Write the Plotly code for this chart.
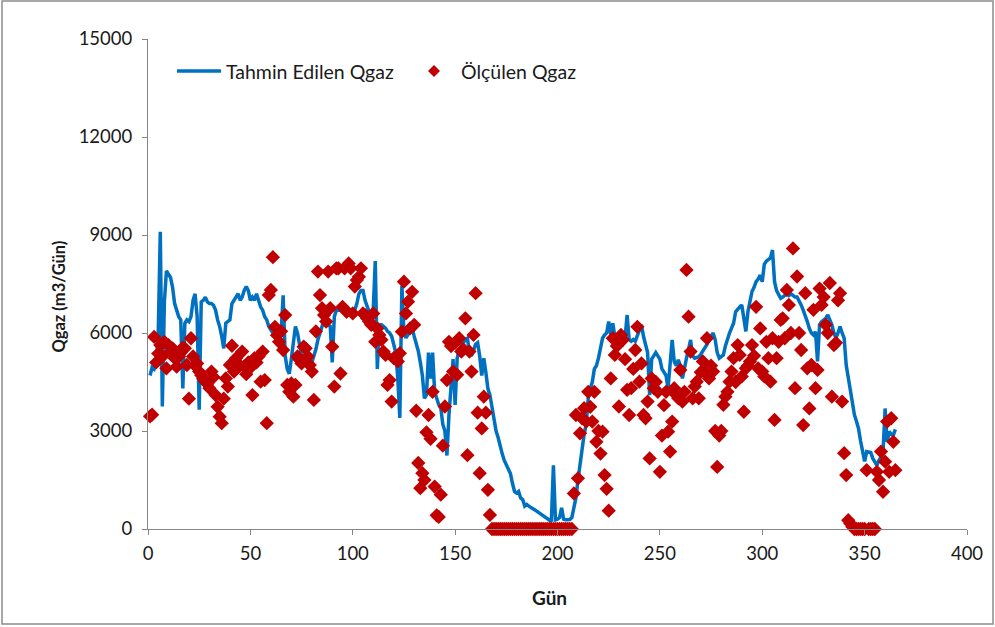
import plotly.graph_objects as go

# Gün numaraları (1..365)
days = list(range(1, 366))

# Tahmin edilen günlük gaz debisi (m3/gün)
predicted = [
    4700, 4950, 4900, 5100, 6000, 9100, 3750, 6950, 7900, 7800,
    7700, 7400, 6900, 6700, 6500, 6400, 4300, 6300, 6400, 6350,
    6500, 7000, 7200, 6500, 3650, 6950, 7000, 7100, 6950, 6900,
    6900, 6850, 6700, 6400, 6200, 5900, 5530, 6300, 6350, 6400,
    6900, 7000, 7100, 7200, 7000, 7100, 7300, 7420, 7300, 7000,
    7100, 7000, 7200, 7000, 6800, 6700, 6500, 6400, 6200, 6100,
    6000, 6100, 6000, 6100, 6000, 7150, 5300, 4900, 4750, 5200,
    5800, 6200, 6000, 5600, 5300, 5100, 5000, 4950, 5000, 5100,
    5300, 5500, 5800, 6000, 6200, 6400, 6300, 6250, 6200, 5100,
    6500, 6700, 6700, 6700, 6750, 6700, 6700, 6750, 6700, 6700,
    6700, 6900, 7200, 7300, 7300, 7000, 6800, 6650, 6650, 6700,
    8200, 4900, 6250, 6250, 6200, 6150, 6050, 6000, 5900, 5600,
    5400, 4600, 3400, 7450, 6000, 5850, 5950, 6050, 6150, 5900,
    5700, 5450, 5100, 4700, 4000, 4100, 5400, 4600, 5400, 4200,
    4000, 3800, 3700, 3200, 3000, 2250, 3500, 4200, 5200, 3800,
    5230, 5500, 5600, 5700, 5800, 5840, 5400, 5300, 5500, 5650,
    5700, 5300, 4700, 5230, 4800, 4300, 4100, 3700, 3300, 3000,
    2800, 2500, 2300, 2100, 1950, 1800, 1700, 1400, 1150, 1100,
    1150, 950, 900, 700, 750, 700, 650, 620, 580, 540,
    500, 450, 420, 380, 330, 280, 230, 1950, 280, 300,
    350, 650, 300, 280, 280, 290, 350, 600, 950, 1500,
    2000, 2400, 2900, 3200, 4000, 4300, 4500, 4900, 5000, 5230,
    5500, 5840, 5940, 6000, 6350, 5940, 6300, 5900, 5850, 5850,
    5850, 5800, 5850, 6550, 5800, 5750, 5800, 5750, 5900, 6100,
    6250, 5900, 5650, 5400, 4100, 5200, 5300, 5400, 5300, 5200,
    4900, 4800, 4700, 4310, 5000, 5790, 5130, 5000, 5180, 5000,
    4610, 5000, 5230, 5500, 5790, 5300, 5230, 5250, 5270, 5350,
    5450, 5530, 5650, 5790, 5900, 6000, 5800, 5400, 5230, 5300,
    5330, 5600, 5840, 6000, 6150, 6300, 6650, 6750, 6800, 6860,
    6500, 6050, 6650, 7000, 7270, 7400, 7570, 7650, 7770, 7570,
    8100, 8200, 8250, 8300, 8540, 7570, 7300, 7150, 7060, 7100,
    7150, 7200, 7150, 7200, 7150, 7100, 7100, 7000, 6860, 6700,
    6550, 6350, 6140, 6000, 5940, 6040, 5130, 6250, 6350, 6400,
    6450, 6550, 6400, 6250, 6000, 5840, 6000, 6200, 6000, 5840,
    5020, 4600, 4200, 3800, 3500, 3300, 3080, 2700, 2370, 2070,
    2370, 2350, 2340, 2160, 2050, 1950, 2100, 2200, 2370, 3690,
    2670, 2980, 2900, 2870, 3050,
]

# Ölçülen günlük gaz debisi (m3/gün)
measured = [
    3450, 3500, 5880, 5100, 5370, 5630, 5280, 5730, 4920, 5630,
    5430, 5530, 5230, 4970, 5280, 5400, 5550, 5530, 5020, 3990,
    5840, 5280, 5000, 5070, 4820, 4710, 4600, 4510, 4450, 4310,
    4820, 4650, 4100, 3740, 3440, 3240, 3990, 4610, 4360, 5020,
    5610, 4820, 5230, 4980, 5000, 5430, 4980, 4740, 5100, 4940,
    4100, 5230, 5100, 5280, 4510, 5430, 4560, 3240, 7160, 7320,
    8320, 6190, 5930, 5730, 6050, 5480, 6550, 4410, 4200, 4460,
    4050, 4410, 5280, 5180, 5070, 5580, 5530, 5280, 5020, 4820,
    3950, 6050, 7880, 7160, 6760, 6550, 6350, 7880, 6760, 5580,
    4360, 7980, 7980, 4760, 6800, 7980, 6650, 8130, 7980, 6600,
    7420, 7620, 7720, 7980, 6600, 6550, 6450, 6350, 6250, 6600,
    5730, 6140, 5940, 5790, 5430, 5330, 4410, 4560, 3900, 5230,
    5230, 5130, 5380, 6040, 7570, 6600, 6960, 6140, 7260, 6250,
    3620, 2020, 1250, 1710, 1500, 2960, 3490, 2760, 4200, 1300,
    420, 370, 1050, 2550, 3750, 4560, 5730, 5600, 4820, 5700,
    4720, 5840, 5430, 5500, 6450, 2260, 5430, 4820, 5940, 7220,
    3560, 1710, 3080, 4050, 3560, 1200, 430, 0, 0, 0,
    0, 0, 0, 0, 0, 0, 0, 0, 0, 0,
    0, 0, 0, 0, 0, 0, 0, 0, 0, 0,
    0, 0, 0, 0, 0, 0, 0, 0, 0, 0,
    0, 0, 0, 0, 0, 0, 0, 1090, 3490, 1550,
    2930, 3390, 3700, 3290, 4200, 3740, 3290, 4200, 2670, 3000,
    2310, 2980, 1650, 1230, 560, 4610, 5840, 5330, 5600, 3750,
    5940, 5790, 5200, 4260, 3490, 4310, 4900, 5480, 6190, 4510,
    5070, 3490, 3390, 3900, 2160, 4610, 4310, 4500, 4200, 1750,
    2860, 3790, 4200, 2980, 2370, 3290, 4310, 4100, 4000, 4870,
    3900, 4200, 7930, 6500, 5430, 4000, 4360, 4510, 4000, 4800,
    5130, 4820, 5840, 4610, 5000, 4820, 3000, 1900, 2860, 3000,
    3800, 4050, 4200, 4510, 4820, 5230, 4500, 5630, 5330, 4670,
    3590, 4920, 5000, 5130, 5630, 5300, 6800, 4920, 6140, 4820,
    4670, 5730, 5230, 4510, 5840, 3340, 5230, 5730, 6400, 6450,
    5840, 7320, 6860, 6000, 8590, 4310, 7730, 6000, 5480, 3180,
    7220, 4920, 3690, 5020, 6710, 4310, 4870, 7360, 6860, 7100,
    6250, 6000, 7530, 4050, 5630, 5700, 7000, 7220, 3900, 2320,
    1650, 270, 170, 70, 0, 0, 0, 0, 0, 0,
    1800, 0, 0, 0, 0, 1750, 1500, 2370, 1140, 2060,
    3290, 1750, 3390, 2670, 1800,
]

x_ticks = [0, 50, 100, 150, 200, 250, 300, 350, 400]
y_ticks = [0, 3000, 6000, 9000, 12000, 15000]

series_names = ["Tahmin Edilen Qgaz", "Ölçülen Qgaz"]
x_title = "Gün"
y_title = "Qgaz (m3/Gün)"

BLUE = "#0070C0"
RED = "#C00000"
AXIS = "#868686"
TEXT = "#1a1a1a"
FONT = "Lato, Calibri, Carlito, sans-serif"

W, H = 995, 627
L, R, T, B = 148, 967, 39, 529


def xp(px):
    return (px - L) / (R - L)


def yp(py):
    return (B - py) / (B - T)


fig = go.Figure()
fig.add_trace(go.Scatter(
    x=days, y=predicted, mode="lines", name=series_names[0],
    line=dict(color=BLUE, width=3.5), showlegend=False,
))
fig.add_trace(go.Scatter(
    x=days, y=measured, mode="markers", name=series_names[1],
    marker=dict(symbol="diamond", size=11, color=RED, line=dict(width=0)),
    cliponaxis=False, showlegend=False,
))

axis_common = dict(
    showgrid=False, zeroline=False, showline=True, linecolor=AXIS, linewidth=1,
    ticks="outside", ticklen=5, tickcolor=AXIS, tickwidth=1,
    tickfont=dict(family=FONT, size=18.5, color=TEXT),
)
fig.update_xaxes(range=[0, 400], tickvals=x_ticks, ticktext=[str(v) for v in x_ticks],
                 ticklabelstandoff=3, **axis_common)
fig.update_yaxes(range=[0, 15000], tickvals=y_ticks, ticktext=[str(v) for v in y_ticks],
                 ticklabelstandoff=6, **axis_common)

annotations = [
    dict(text="<b>%s</b>" % x_title, x=xp(549), y=yp(597), xref="paper", yref="paper",
         xanchor="center", yanchor="middle", showarrow=False,
         font=dict(family=FONT, size=19, color=TEXT)),
    dict(text="<b>%s</b>" % y_title, x=xp(58.5), y=yp(297), xref="paper", yref="paper",
         xanchor="center", yanchor="middle", showarrow=False, textangle=-90,
         font=dict(family=FONT, size=16.5, color=TEXT)),
    dict(text=series_names[0], x=xp(224), y=yp(71), xref="paper", yref="paper",
         xanchor="left", yanchor="middle", showarrow=False,
         font=dict(family=FONT, size=19.5, color=TEXT)),
    dict(text=series_names[1], x=xp(459), y=yp(71), xref="paper", yref="paper",
         xanchor="left", yanchor="middle", showarrow=False,
         font=dict(family=FONT, size=19.5, color=TEXT)),
]

shapes = [
    # outer chart border
    dict(type="rect", xref="paper", yref="paper", x0=xp(2), x1=xp(993), y0=yp(1), y1=yp(624),
         line=dict(color="#8c8c8c", width=1.5), fillcolor="rgba(0,0,0,0)"),
    # legend keys
    dict(type="line", xref="paper", yref="paper", x0=xp(177), x1=xp(221), y0=yp(71), y1=yp(71),
         line=dict(color=BLUE, width=3.5)),
    dict(type="path", xref="paper", yref="paper", xsizemode="pixel", ysizemode="pixel",
         xanchor=xp(434), yanchor=yp(71), path="M -6 0 L 0 6 L 6 0 L 0 -6 Z",
         fillcolor=RED, line=dict(width=0)),
]

fig.update_layout(
    width=W, height=H,
    margin=dict(l=L, r=W - R, t=T, b=H - B),
    paper_bgcolor="white", plot_bgcolor="white",
    font=dict(family=FONT, size=16, color=TEXT),
    annotations=annotations, shapes=shapes,
)

fig.write_html("out.html")
